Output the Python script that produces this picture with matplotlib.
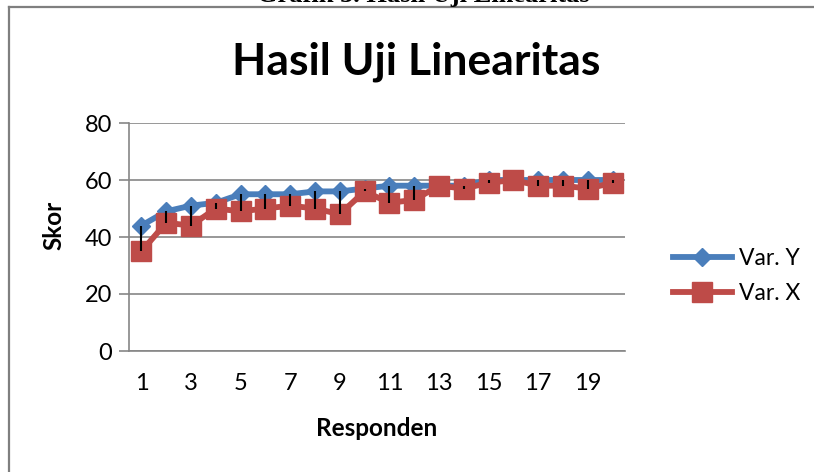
import matplotlib.pyplot as plt
from matplotlib.lines import Line2D

# data
responden = list(range(1, 21))
var_y = [44, 49, 51, 52, 55, 55, 55, 56, 56, 57, 58, 58, 58, 58, 60, 60, 60, 60, 60, 60]
var_x = [35, 45, 44, 50, 49, 50, 51, 50, 48, 56, 52, 53, 58, 57, 59, 60, 58, 58, 57, 59]
x_ticks = [1, 3, 5, 7, 9, 11, 13, 15, 17, 19]
y_ticks = [0, 20, 40, 60, 80]

BLUE = "#4A7EBB"
RED = "#BE4B48"
GREY = "#868686"
FONT = ["Lato", "DejaVu Sans"]

plt.rcParams['font.family'] = FONT

fig = plt.figure(figsize=(8.14, 4.72), dpi=100)
W, H = 814, 472
ax = fig.add_axes([129 / W, 1 - 351 / H, (625 - 129) / W, (351 - 123) / H])

ax.plot(responden, var_y, color=BLUE, lw=4.2, marker='D', ms=9.5,
        mec=BLUE, mfc=BLUE, zorder=3, solid_joinstyle='round')
ax.plot(responden, var_x, color=RED, lw=4.2, marker='s', ms=14,
        mec=RED, mfc=RED, zorder=4, solid_joinstyle='round')
# high-low lines between the two series
ax.vlines(responden, var_x, var_y, color='black', lw=1.5, zorder=5)

ax.set_xlim(0.5, 20.5)
ax.set_ylim(0, 80)
ax.set_xticks(x_ticks)
ax.set_yticks(y_ticks)
ax.tick_params(axis='x', length=0, pad=16, labelsize=17)
ax.tick_params(axis='y', length=7, width=1.2, color=GREY, direction='out',
               pad=5, labelsize=17)
ax.grid(axis='y', color=GREY, lw=1.2)
ax.set_axisbelow(True)
for s in ['top', 'right']:
    ax.spines[s].set_visible(False)
for s in ['left', 'bottom']:
    ax.spines[s].set_color(GREY)
    ax.spines[s].set_linewidth(1.2)

fig.text(416 / W, 1 - 75 / H, "Hasil Uji Linearitas", ha='center',
         va='baseline', fontsize=32, fontweight='bold')
fig.text(377 / W, 1 - 428 / H, "Responden", ha='center', va='center',
         fontsize=17.5, fontweight='bold')
fig.text(54 / W, 1 - 225 / H, "Skor", ha='center', va='center',
         rotation=90, fontsize=17.5, fontweight='bold')

# cut-off caption above the frame
fig.text(423 / W, 1 - 2 / H, "Grafik 3. Hasil Uji Linearitas", ha='center',
         va='baseline', fontsize=19, fontweight='bold', family='Liberation Serif')

# frame lines (left and top only visible)
fig.add_artist(Line2D([9 / W, 9 / W], [0, 1 - 7 / H], color='#7f7f7f', lw=1.6,
                      transform=fig.transFigure))
fig.add_artist(Line2D([9 / W, 1], [1 - 7 / H, 1 - 7 / H], color='#7f7f7f', lw=1.6,
                      transform=fig.transFigure))

handles = [
    Line2D([], [], color=BLUE, lw=4.2, marker='D', ms=9.5),
    Line2D([], [], color=RED, lw=4.2, marker='s', ms=14),
]
fig.legend(handles, ["Var. Y", "Var. X"], loc='center left',
           bbox_to_anchor=(652 / W, 1 - 276 / H), frameon=False, fontsize=16.5,
           handlelength=2.6, handletextpad=0.3, labelspacing=0.6)

fig.savefig("out.png", dpi=100)
